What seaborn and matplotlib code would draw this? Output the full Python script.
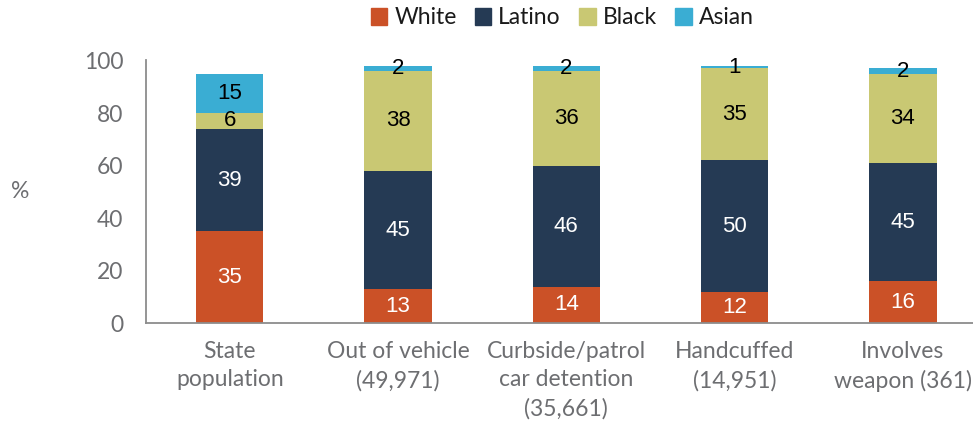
import matplotlib
matplotlib.use("Agg")
import matplotlib.pyplot as plt
import seaborn as sns
import pandas as pd
import numpy as np

categories = ["State\npopulation", "Out of vehicle\n(49,971)", "Curbside/patrol\ncar detention\n(35,661)",
              "Handcuffed\n(14,951)", "Involves\nweapon (361)"]
series_names = ["White", "Latino", "Black", "Asian"]
white = [35, 13, 14, 12, 16]
latino = [39, 45, 46, 50, 45]
black = [6, 38, 36, 35, 34]
asian = [15, 2, 2, 1, 2]
colors = {"White": "#cb5127", "Latino": "#253a54", "Black": "#c9c873", "Asian": "#3aadd3"}
label_colors = {"White": "white", "Latino": "white", "Black": "black", "Asian": "black"}
yticks = [0, 20, 40, 60, 80, 100]

sns.set_theme(style="white")
plt.rcParams['font.family'] = ['Lato', 'DejaVu Sans']

arr = np.array([white, latino, black, asian], dtype=float)
cum = np.cumsum(arr, axis=0)

fig = plt.figure(figsize=(9.73, 4.23), dpi=100)
ax = fig.add_axes([145.7 / 973, (423 - 323.3) / 423, 841.3 / 973, (323.3 - 60.5) / 423])

# draw cumulative totals from top series down so they stack visually
for i in range(len(series_names) - 1, -1, -1):
    name = series_names[i]
    df = pd.DataFrame({"cat": categories, "val": cum[i]})
    sns.barplot(data=df, x="cat", y="val", color=colors[name], width=0.4,
                saturation=1, ax=ax, edgecolor="none", linewidth=0, order=categories)

# segment labels
for i, name in enumerate(series_names):
    for j in range(len(categories)):
        bottom = cum[i, j] - arr[i, j]
        ax.text(j, bottom + arr[i, j] / 2, f"{int(arr[i, j])}", ha="center", va="center",
                fontsize=16, color=label_colors[name], family=["Liberation Sans", "DejaVu Sans"])

ax.set_ylim(0, 100)
ax.set_xlim(-0.5, 4.5)
ax.set_yticks(yticks)
ax.set_yticklabels([str(t) for t in yticks])
ax.tick_params(axis="y", length=0, pad=16, labelsize=16.5, labelcolor="#6d6e71")
ax.tick_params(axis="x", length=0, pad=13, labelsize=16.5, labelcolor="#6d6e71")
for lbl in ax.get_xticklabels():
    lbl.set_linespacing(1.42)
ax.set_xlabel("")
ax.set_ylabel("%", rotation=0, fontsize=16.5, color="#6d6e71", ha="center", va="center")
ax.yaxis.set_label_coords((20 - 145.7) / 841.3, 0.5)

for s in ["top", "right"]:
    ax.spines[s].set_visible(False)
for s in ["left", "bottom"]:
    ax.spines[s].set_color("#8c8c8c")
    ax.spines[s].set_linewidth(1.3)

handles = [plt.Rectangle((0, 0), 1, 1, color=colors[n]) for n in series_names]
leg = ax.legend(handles, series_names, loc="center", bbox_to_anchor=(0.495, (323.3 - 18) / (323.3 - 60.5)),
                ncol=4, frameon=False, fontsize=16.5, handlelength=0.72, handleheight=0.72,
                handletextpad=0.3, columnspacing=0.8, borderaxespad=0)
for t in leg.get_texts():
    t.set_color("#1a1a1a")

fig.savefig("out.png", dpi=100)
